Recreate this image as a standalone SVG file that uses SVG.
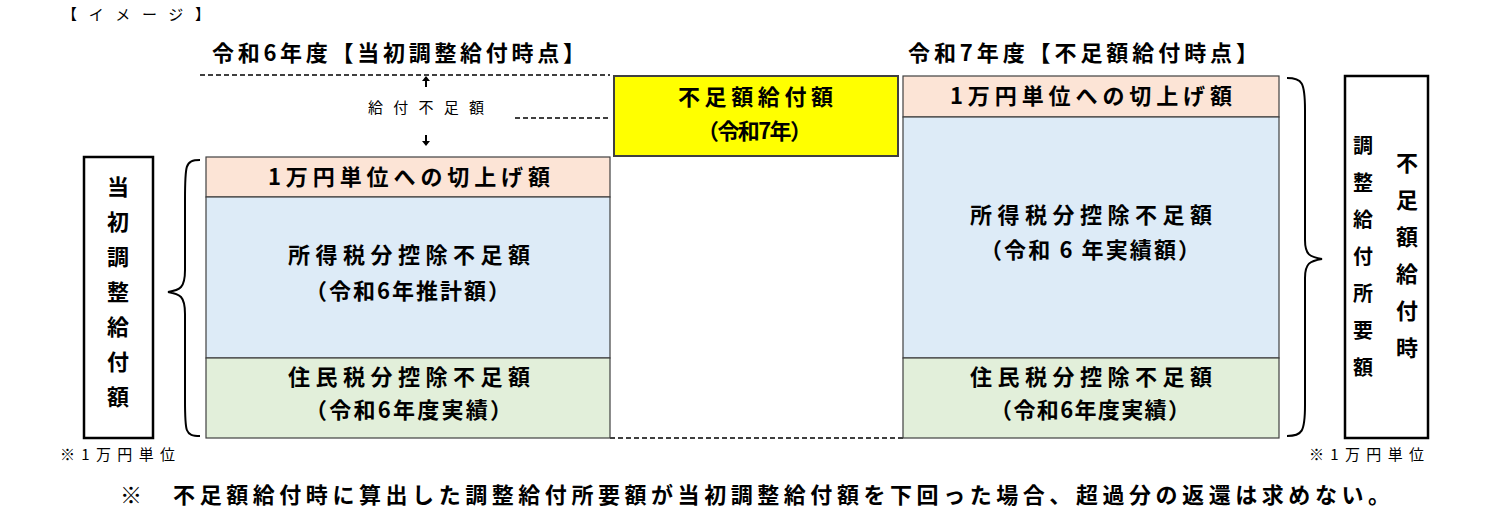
<svg xmlns="http://www.w3.org/2000/svg" width="1499" height="520" viewBox="0 0 1499 520">
<style>
text{font-family:"Noto Sans CJK JP","Noto Sans",sans-serif;fill:#000}
.b{font-weight:bold;font-size:22px}
.s{font-size:15px}
.c{text-anchor:middle}
.box{stroke:#404040;stroke-width:1.2}
.d{stroke:#000;stroke-width:1.3;stroke-dasharray:5,3;fill:none}
.br{fill:none;stroke:#000;stroke-width:2}
</style>
<rect width="1499" height="520" fill="#fff"/>
<text x="62" y="20" class="s" textLength="148" lengthAdjust="spacing">【イメージ】</text>
<text x="212" y="61" class="b" textLength="373" lengthAdjust="spacing">令和6年度【当初調整給付時点】</text>
<text x="908" y="61" class="b" textLength="350" lengthAdjust="spacing">令和7年度【不足額給付時点】</text>
<g id="connectors">
<path class="d" d="M200 75H610"/>
<path class="d" d="M515 118H610" stroke-dasharray="10,6"/>
<path class="d" d="M610 438H903"/>
<path d="M426 79v8M426 135v8" stroke="#000" stroke-width="2"/>
<path d="M422 81l4-5 4 5zM422 141l4 5 4-5z" fill="#000"/>
<path class="br" d="M200 160 C185 160 185 165 185 200 L185 270 C185 288 180 290 168 292 C180 294 185 296 185 314 L185 400 C185 432 185 436 200 436"/>
<path class="br" d="M1287 78 C1302 78 1305 82 1305 110 L1305 240 C1305 255 1310 257 1322 259 C1310 261 1305 263 1305 278 L1305 405 C1305 432 1302 436 1287 436"/>
</g>
<g id="left-label"><rect x="84" y="157" width="69" height="281" fill="#fff" stroke="#000" stroke-width="2.5"/>
<g class="b c"><text x="118" y="195">当</text><text x="118" y="230">初</text><text x="118" y="265">調</text><text x="118" y="300">整</text><text x="118" y="335">給</text><text x="118" y="370">付</text><text x="118" y="405">額</text></g></g>
<text x="60" y="460" class="s" textLength="115" lengthAdjust="spacing">※1万円単位</text>
<text x="368" y="113" class="s" textLength="116" lengthAdjust="spacing">給付不足額</text>
<g id="l1"><rect class="box" x="206" y="157" width="404" height="40" fill="#fce4d6"/><text x="268" y="185" class="b" textLength="282" lengthAdjust="spacing">1万円単位への切上げ額</text></g>
<g id="l2"><rect class="box" x="206" y="197" width="404" height="161" fill="#ddebf7"/><text x="288" y="263" class="b" textLength="242" lengthAdjust="spacing">所得税分控除不足額</text><text x="305" y="299" class="b" textLength="205" lengthAdjust="spacing">（令和6年推計額）</text></g>
<g id="l3"><rect class="box" x="206" y="358" width="404" height="80" fill="#e2efda"/><text x="288" y="385" class="b" textLength="242" lengthAdjust="spacing">住民税分控除不足額</text><text x="305" y="418" class="b" textLength="207" lengthAdjust="spacing">（令和6年度実績）</text></g>
<g id="y"><rect x="614" y="76" width="284" height="80" fill="#ffff00" stroke="#404040" stroke-width="2"/><text x="678" y="105" class="b" textLength="155" lengthAdjust="spacing">不足額給付額</text><text x="697" y="139" class="b" textLength="115" lengthAdjust="spacing">（令和7年）</text></g>
<g id="r1"><rect class="box" x="903" y="76" width="376" height="41" fill="#fce4d6"/><text x="950" y="104" class="b" textLength="282" lengthAdjust="spacing">1万円単位への切上げ額</text></g>
<g id="r2"><rect class="box" x="903" y="117" width="376" height="241" fill="#ddebf7"/><text x="970" y="223" class="b" textLength="242" lengthAdjust="spacing">所得税分控除不足額</text><text x="980" y="258" class="b" textLength="220" lengthAdjust="spacing">（令和 6 年実績額）</text></g>
<g id="r3"><rect class="box" x="903" y="358" width="376" height="80" fill="#e2efda"/><text x="970" y="385" class="b" textLength="242" lengthAdjust="spacing">住民税分控除不足額</text><text x="990" y="418" class="b" textLength="200" lengthAdjust="spacing">（令和6年度実績）</text></g>
<g id="right-label"><rect x="1345" y="76" width="83" height="362" fill="#fff" stroke="#000" stroke-width="2.5"/>
<g class="c" style="font-size:20px;font-weight:bold"><text x="1363" y="153">調</text><text x="1363" y="190">整</text><text x="1363" y="227">給</text><text x="1363" y="264">付</text><text x="1363" y="301">所</text><text x="1363" y="338">要</text><text x="1363" y="375">額</text></g>
<g class="b c"><text x="1407" y="171">不</text><text x="1407" y="208">足</text><text x="1407" y="245">額</text><text x="1407" y="282">給</text><text x="1407" y="319">付</text><text x="1407" y="356">時</text></g></g>
<text x="1309" y="460" class="s" textLength="115" lengthAdjust="spacing">※1万円単位</text>
<text x="120" y="503" class="b" textLength="1270" lengthAdjust="spacing">※　不足額給付時に算出した調整給付所要額が当初調整給付額を下回った場合、超過分の返還は求めない。</text>
</svg>
